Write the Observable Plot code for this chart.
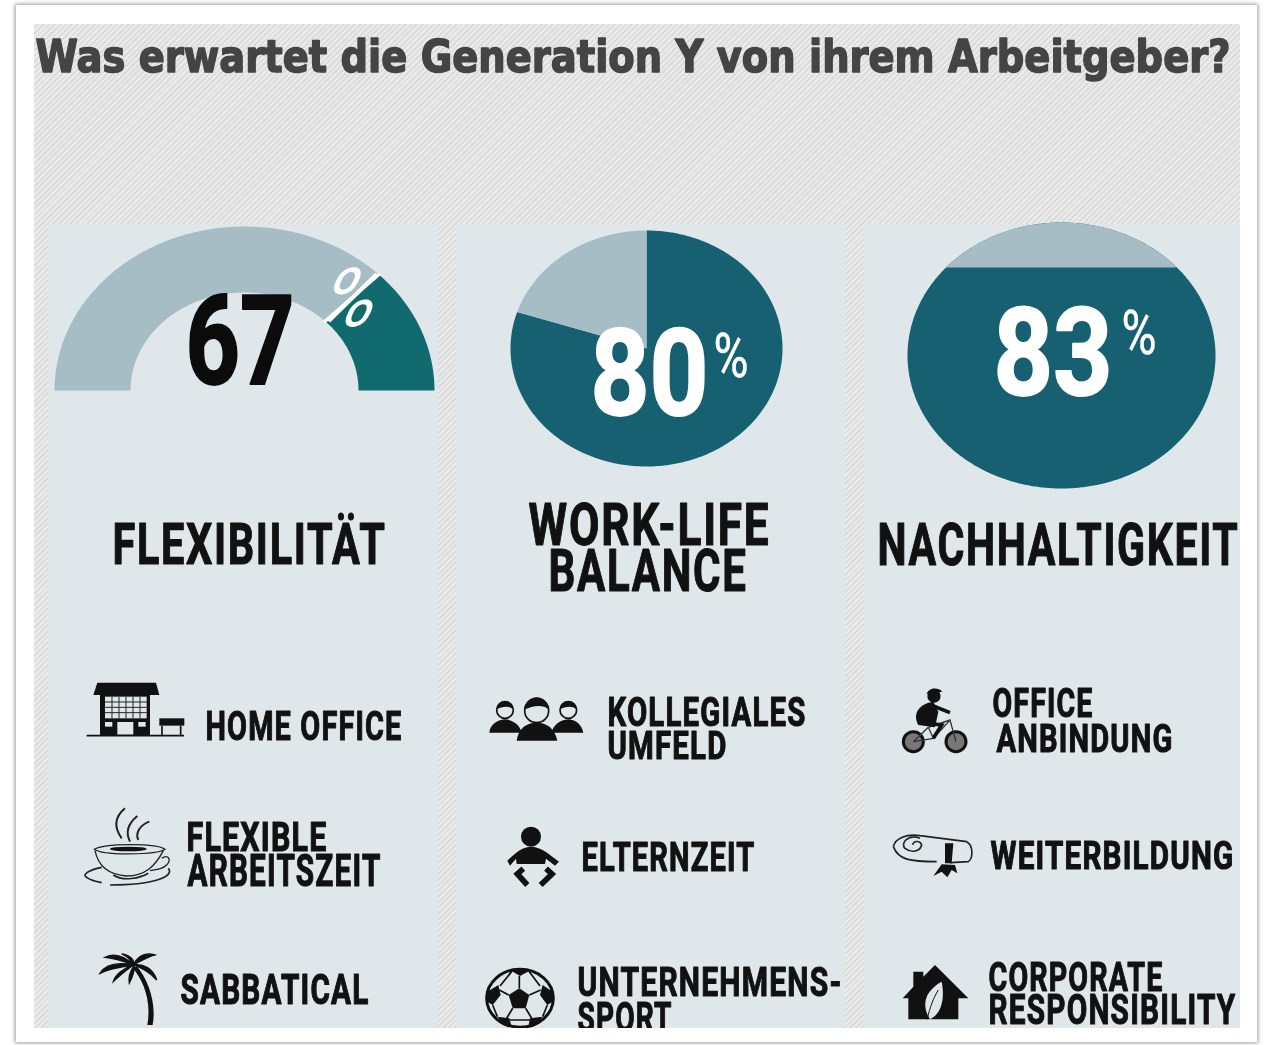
<!DOCTYPE html>
<html lang="de">
<head>
<meta charset="utf-8">
<script src="https://cdn.jsdelivr.net/npm/d3@7"></script>
<script src="https://cdn.jsdelivr.net/npm/@observablehq/plot@0.6"></script>
<style>
html,body{margin:0;padding:0;background:#fff;width:1271px;height:1045px;overflow:hidden}
#card{position:absolute;left:16px;top:5px;width:1241px;height:1037px;background:#fff;box-shadow:0 0 4px 1px rgba(0,0,0,.4)}
#stripes{position:absolute;left:34px;top:24px;width:1206px;height:1004px;background:repeating-linear-gradient(135deg,#ebebeb 0 2px,#dcdcdc 2px 4px)}
#chart{position:absolute;left:0;top:0}
#chart svg{display:block;background:transparent;filter:blur(.5px)}
</style>
</head>
<body>
<div id="card"></div>
<div id="stripes"></div>
<div id="chart"></div>
<script>
// ---------- data ----------
const chartTitle = "Was erwartet die Generation Y von ihrem Arbeitgeber?";
const categories = ["FLEXIBILITÄT", "WORK-LIFE BALANCE", "NACHHALTIGKEIT"];
const percentLabels = ["67", "80", "83"];
const gaugeFilledShare = 25;   // teal part of the half ring, as drawn
const pieFilledShare = 80;     // teal part of the middle pie
const capArcShare = 27;        // share of the third outline spanned by its grey cap, as drawn
const headingLines = ["FLEXIBILITÄT", "WORK-LIFE", "BALANCE", "NACHHALTIGKEIT"];
const itemLines = [
  "HOME OFFICE", "FLEXIBLE", "ARBEITSZEIT", "SABBATICAL",
  "KOLLEGIALES", "UMFELD", "ELTERNZEIT", "UNTERNEHMENS-", "SPORT",
  "OFFICE", "ANBINDUNG", "WEITERBILDUNG", "CORPORATE", "RESPONSIBILITY"
];

// ---------- layout and style ----------
const W = 1271, H = 1045;
const panelX = [[48, 438], [456, 845], [864, 1240]];
const panelTop = 224, panelBottom = 1028;
const panelColor = "#dfe7ea", greyArc = "#a7bdc6", tealGauge = "#116a6e", tealPie = "#176071";
const gaugeShape = {cx: 244, cy: 390, rx: 190, ry: 164, irx: 114, iry: 98};
const pieShape = {cx: 646, cy: 348, rx: 136, ry: 118};
const capShape = {cx: 1061, cy: 355, rx: 154, ry: 133};
// x start, x end, baseline, cap height
const numberBoxes = [[185,294,383,88],[590,708,414,86],[993,1112,394,87]];
const headingBoxes = [[112,386,563.5,41],[528,770,544.5,42],[548,747,590.5,42],[877,1239,564.5,42]];
const itemBoxes = [
  [205,402,739.5,29],[186,327,850.5,29],[187,381,885.5,31],[180,369,1003.5,30],
  [607,806,725.5,29],[607,727,758.5,28],[581,755,870.5,29],[577,842,995.5,29],[577,672,1031.5,30],
  [992,1093,716.5,29],[996,1173,751.5,28],[990,1234,868.5,28],[988,1163,990.5,29],[988,1236,1023.5,30]
];
const CAP = 0.71;
const narrow = "Roboto,'DejaVu Sans',sans-serif";

function lineRows(texts, boxes, fill){
  return texts.map((text, i) => ({text, x: boxes[i][0], x2: boxes[i][1], y: boxes[i][2], size: boxes[i][3] / CAP, fill}));
}
function fittedText(rows, extra = {}, tracking = "0.04em"){
  return Plot.text(rows, {
    x: "x", y: "y", text: "text", fill: d => d.fill, fontSize: "size",
    textAnchor: "start", lineAnchor: "bottom", fontFamily: narrow, fontWeight: 700,
    stroke: d => d.fill, strokeWidth: 1.1, ...extra,
    render(index, scales, values, dims, ctx, next){
      const g = next(index, scales, values, dims, ctx);
      d3.select(g).selectAll("text")
        .attr("letter-spacing", tracking)
        .attr("textLength", (_, i) => rows[index[i]].x2 - rows[index[i]].x)
        .attr("lengthAdjust", "spacingAndGlyphs");
      return g;
    }
  });
}
// ring or pie polygon between two shares of a turn, measured clockwise from 12 o'clock
const at = (s, rx, ry, a) => ({x: s.cx + rx * Math.sin(a), y: s.cy - ry * Math.cos(a)});
function arcPoints(s, from, to, inner){
  const pts = [];
  for (const a of d3.range(from, to, 0.01).concat(to)) pts.push(at(s, s.rx, s.ry, a));
  if (inner === "ring") for (const a of d3.range(to, from, -0.01).concat(from)) pts.push(at(s, s.irx, s.iry, a));
  else if (inner === "pie") pts.push({x: s.cx, y: s.cy});
  return pts;
}
const poly = (pts, fill) => Plot.line(pts, {x: "x", y: "y", fill, stroke: null, curve: "linear"});
const T = 2 * Math.PI;

const gaugeStart = -T / 4;
const gaugeSplit = gaugeStart + (T / 2) * (100 - gaugeFilledShare) / 100;
const gaugeEnd = T / 4;
const capHalf = (capArcShare / 100) * T / 2;

// ---------- pictograms ----------
const iconsMarkup = `
<g transform="translate(60,660) scale(.3333)" fill="#111" stroke="none">
  <path d="M100 105 L112 68 H288 L298 105 Z"/>
  <path d="M120 105 H270 V225 H120 Z"/>
  <rect x="135" y="110" width="125" height="65" fill="${panelColor}"/>
  <path d="M135 126H260M135 142H260M135 158H260M156 110V175M177 110V175M198 110V175M219 110V175M240 110V175" stroke="#222" stroke-width="3" fill="none"/>
  <rect x="135" y="186" width="22" height="14" fill="${panelColor}"/><rect x="172" y="186" width="48" height="38" fill="${panelColor}"/><rect x="235" y="186" width="22" height="14" fill="${panelColor}"/>
  <rect x="298" y="175" width="75" height="22"/>
  <path d="M80 227H372M306 197V226M362 197V226" stroke="#111" stroke-width="5" fill="none"/>
  <g fill="none" stroke="#222" stroke-width="6">
    <path d="M195 445C165 470 160 500 185 535M232 468C205 490 195 515 210 545M268 485C240 495 225 520 235 540"/>
    <path stroke-width="4" d="M103 568C130 550 290 548 315 568C290 585 130 588 103 568Z"/>
    <path stroke-width="4" d="M105 572C115 620 150 645 200 648C255 648 285 620 310 572M305 595C325 580 335 600 320 615C305 630 285 628 270 632"/>
    <path stroke-width="5" d="M125 622C85 630 65 645 80 652C90 660 110 665 125 668M160 645C190 665 240 655 265 640M325 625C345 650 280 675 150 675"/>
  </g>
  <ellipse cx="205" cy="567" rx="55" ry="7"/>
  <path d="M215 920C250 960 275 1020 262 1095L278 1095C290 1030 265 960 232 920Z"/>
  <path d="M220 915C190 885 160 880 135 892C165 895 195 905 220 915ZM220 915C170 905 135 915 120 940C150 925 190 920 220 915ZM220 915C190 925 165 945 160 965C180 945 200 930 220 915ZM222 918C210 935 205 955 208 970C218 950 225 935 222 918ZM220 915C235 885 260 878 285 885C260 892 240 905 220 915ZM220 915C250 910 280 925 290 960C270 935 245 925 220 915ZM220 915C210 900 205 890 185 882C210 885 225 900 220 915Z" stroke="#111" stroke-width="4"/>
</g>
<g transform="translate(470,670) scale(.3333)" fill="#111" stroke="none">
  <path d="M58 188C60 165 80 150 105 148C130 150 150 165 155 188ZM140 212C145 175 170 158 200 158C230 158 255 175 262 212ZM245 188C250 165 270 150 295 148C320 150 335 165 340 188Z"/>
  <g stroke="#111" stroke-width="5"><circle cx="105" cy="120" r="25" fill="${panelColor}"/><circle cx="295" cy="120" r="25" fill="${panelColor}"/><circle cx="200" cy="122" r="36" fill="${panelColor}"/></g>
  <path d="M80 118A25 25 0 0 1 130 118C115 105 95 110 80 118ZM270 118A25 25 0 0 1 320 118C305 105 285 110 270 118ZM164 118A36 36 0 0 1 236 118C215 100 185 110 164 118Z"/>
  <circle cx="183" cy="500" r="30"/>
  <path d="M112 572C140 545 160 530 183 530C210 530 235 550 267 575L255 587L228 566L225 582L140 582L138 566L120 587Z"/>
  <path d="M160 596L142 612L172 645M228 596L246 612L212 645" fill="none" stroke="#111" stroke-width="17"/>
  <ellipse cx="150" cy="985" rx="100" ry="87" fill="${panelColor}" stroke="#111" stroke-width="9"/>
  <path d="M148 955L178 975L167 1015H128L116 975Z"/>
  <path d="M125 903L150 918L178 903L165 897H135ZM52 965L85 945L92 975L68 1005L52 995ZM248 965L218 945L210 975L232 1005L248 995ZM82 1040L118 1045L125 1070L100 1065ZM218 1040L180 1045L175 1070L200 1065Z"/>
  <path d="M148 955V918M116 975L88 960M178 975L212 960M128 1015L110 1045M167 1015L185 1045M68 1005L82 1040M232 1005L218 1040M118 1050H180M90 948L125 905M210 948L178 905" fill="none" stroke="#111" stroke-width="5"/>
</g>
<g transform="translate(870,670) scale(.3333)" fill="#111" stroke="none">
  <g fill="#777" stroke="#111" stroke-width="9"><circle cx="130" cy="215" r="30"/><circle cx="258" cy="215" r="30"/></g>
  <path d="M130 215L190 205L240 150L258 215M175 172L190 205M175 172L240 150M130 215L175 172" fill="none" stroke="#333" stroke-width="4"/>
  <circle cx="192" cy="78" r="20"/><path d="M170 72C175 52 205 50 217 65Z"/>
  <path d="M190 95C150 100 125 130 145 165L195 172L205 125Z"/>
  <path d="M190 108L240 128M160 158L215 165L190 205" fill="none" stroke="#111" stroke-width="11"/>
  <path d="M70 530C75 505 110 490 150 497L290 515C310 525 310 565 295 575L240 578M70 530C85 570 120 575 200 575M150 505C115 490 90 520 105 535C125 550 150 545 155 525C150 510 130 512 128 525" fill="none" stroke="#222" stroke-width="5"/>
  <path d="M225 520H250L245 580H225Z"/>
  <path d="M215 583L255 585L262 610L245 600L232 622L215 605L190 618Z"/>
  <path d="M195 885L295 985H265V1048H115V985H98L130 950V905H160V920Z"/>
  <path d="M180 1048C150 1000 170 960 215 935C225 985 215 1030 180 1048Z" fill="${panelColor}"/>
  <path d="M172 1048C180 1010 190 985 205 960" fill="none" stroke="#111" stroke-width="3"/>
</g>`;
const iconsMark = () => {
  const g = document.createElementNS("http://www.w3.org/2000/svg", "g");
  g.innerHTML = iconsMarkup;
  return g;
};

// ---------- chart ----------
const plot = Plot.plot({
  width: W, height: H, margin: 0,
  x: {type: "identity", axis: null},
  y: {type: "identity", axis: null},
  marks: [
    Plot.rect(panelX, {x1: d => d[0], x2: d => d[1], y1: panelTop, y2: panelBottom, fill: panelColor}),
    // half ring
    poly(arcPoints(gaugeShape, gaugeStart, gaugeSplit, "ring"), greyArc),
    poly(arcPoints(gaugeShape, gaugeSplit, gaugeEnd, "ring"), tealGauge),
    Plot.line([at(gaugeShape, gaugeShape.irx, gaugeShape.iry, gaugeSplit), at(gaugeShape, gaugeShape.rx, gaugeShape.ry, gaugeSplit)],
      {x: "x", y: "y", stroke: "#fff", strokeWidth: 3.5}),
    // pie
    poly(arcPoints(pieShape, 0, T * pieFilledShare / 100, "pie"), tealPie),
    poly(arcPoints(pieShape, T * pieFilledShare / 100, T, "pie"), greyArc),
    // filled ellipse with grey cap
    poly(arcPoints(capShape, 0, T, "none"), tealPie),
    poly(arcPoints(capShape, -capHalf, capHalf, "none"), greyArc),
    // title
    Plot.text([chartTitle], {
      x: 35, y: 71, text: d => d, textAnchor: "start", lineAnchor: "bottom",
      fontFamily: "'DejaVu Sans',sans-serif", fontWeight: 700, fontSize: 45, fill: "#444", stroke: "#444", strokeWidth: 1.6,
      render(index, scales, values, dims, ctx, next){
        const g = next(index, scales, values, dims, ctx);
        d3.select(g).selectAll("text").attr("textLength", 1195).attr("lengthAdjust", "spacingAndGlyphs").attr("stroke-linejoin", "round");
        return g;
      }
    }),
    // big numbers
    fittedText(percentLabels.map((text, i) => ({
      text, x: numberBoxes[i][0], x2: numberBoxes[i][1], y: numberBoxes[i][2],
      size: numberBoxes[i][3] / CAP, fill: i === 0 ? "#0b0b0b" : "#fff"
    })), {strokeWidth: 2}, "0"),
    // percent signs
    fittedText([
      {text: "%", x: 713, x2: 748, y: 376, size: 62, fill: "#fff"},
      {text: "%", x: 1121, x2: 1156, y: 353, size: 62, fill: "#fff"}
    ], {fontWeight: 400, strokeWidth: 0.5}, "0"),
    // sheared percent sign lying across the split of the half ring
    Plot.text(["%"], {
      x: 352, y: 298, text: d => d, fontSize: 105, fontFamily: narrow, fontWeight: 400, fill: "#fff",
      render(index, scales, values, dims, ctx, next){
        const g = next(index, scales, values, dims, ctx);
        d3.select(g).selectAll("text")
          .attr("x", 0).attr("y", 0)
          .attr("transform", "translate(339,326) matrix(.74,-.025,-.36,.79,0,0)");
        return g;
      }
    }),
    // headings and items
    fittedText(lineRows(headingLines, headingBoxes, "#111")),
    fittedText(lineRows(itemLines, itemBoxes, "#111")),
    iconsMark,
    // white page below the panels cuts off the last line
    Plot.rect([0], {x1: 34, x2: 1240, y1: panelBottom, y2: 1040, fill: "#fff"})
  ]
});
document.getElementById("chart").appendChild(plot);
</script>
</body>
</html>
